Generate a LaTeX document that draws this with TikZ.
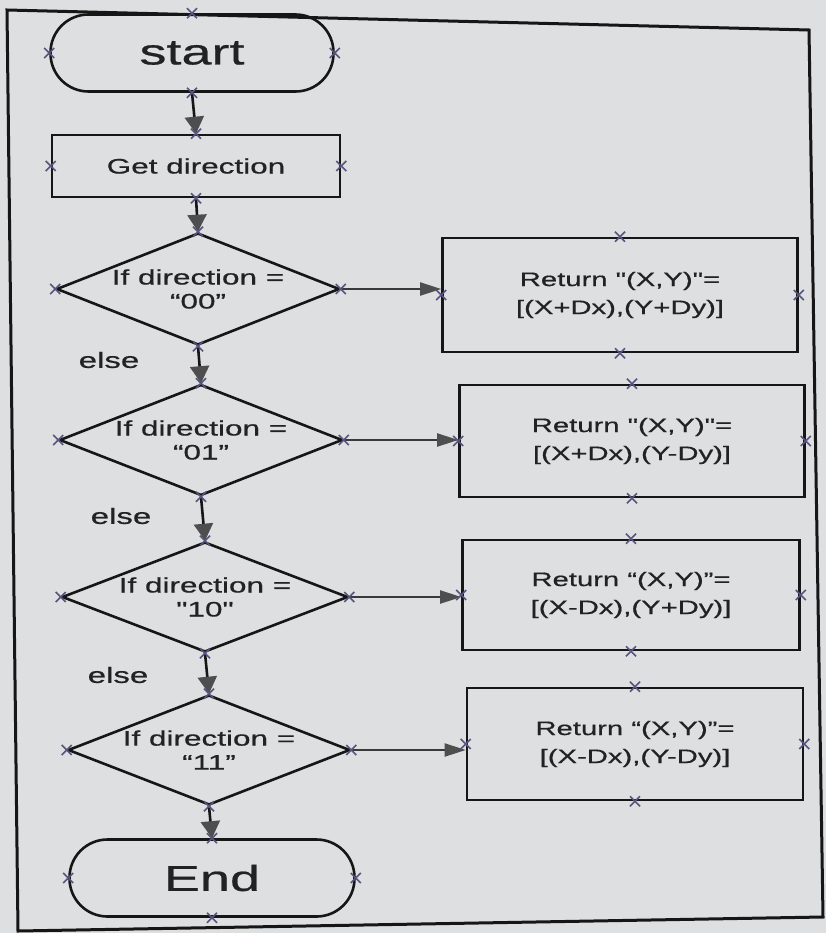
\documentclass[tikz,border=0pt]{standalone}
\usepackage{fontspec}
\setmainfont{Liberation Sans}
\newfontfamily\wf[FakeStretch=1.5,FakeBold=0.6]{Liberation Sans}
\usetikzlibrary{shapes.geometric,arrows.meta,calc}
\definecolor{paper}{HTML}{DEDFE1}
\definecolor{ink}{HTML}{161616}
\definecolor{txt}{HTML}{222222}
\definecolor{headgrey}{HTML}{4E4E4E}
\definecolor{xmcol}{HTML}{55557E}
\tikzset{
  base/.style={draw=ink, line width=2.6pt, text=txt, inner sep=0pt, align=center},
  term/.style={base, rectangle, rounded corners=38pt},
  proc/.style={base, rectangle},
  dec/.style={base, diamond, aspect=2.5},
  vflow/.style={draw=ink, line width=2.6pt, -{Triangle[width=19pt,length=17pt,color=headgrey]}},
  hflow/.style={draw=ink!85, line width=2pt, -{Triangle[width=13pt,length=21pt,color=headgrey]}},
  lbl/.style={font=\wf\fontsize{22}{24}\selectfont, text=txt},
  dtext/.style={font=\wf\fontsize{21}{24}\selectfont},
  rtext/.style={font=\wf\fontsize{19.5}{28}\selectfont},
  xm/.pic={\draw[xmcol, line width=1.6pt] (-5,-5)--(5,5) (-5,5)--(5,-5);},
}
\begin{document}
\begin{tikzpicture}[x=1pt,y=-1pt]
\useasboundingbox (0,0) rectangle (826,933);
\fill[paper] (0,0) rectangle (826,933);
\draw[ink, line width=3pt, line join=miter] (7,10) -- (809,30) -- (823,917) -- (18,931) -- cycle;

% terminals and process
\node[term, minimum width=283pt, minimum height=77pt, font=\wf\fontsize{36}{38}\selectfont] (start) at (192,53) {start};
\node[proc, minimum width=288pt, minimum height=62pt, font=\wf\fontsize{21}{24}\selectfont] (get) at (196,166) {Get direction};

% decisions
\node[dec, dtext, minimum width=283pt, minimum height=112pt] (d1) at (198,289) {If direction =\\“00”};
\node[dec, dtext, minimum width=283pt, minimum height=111pt] (d2) at (201,440) {If direction =\\“01”};
\node[dec, dtext, minimum width=286pt, minimum height=110pt] (d3) at (205,597) {If direction =\\"10"};
\node[dec, dtext, minimum width=282pt, minimum height=110pt] (d4) at (209,750) {If direction =\\“11”};

\node[term, minimum width=285pt, minimum height=77pt, font=\wf\fontsize{36}{38}\selectfont] (end) at (212,878) {End};

% result boxes
\node[proc, rtext, minimum width=355pt, minimum height=114pt] (b1) at (620,295) {Return "(X,Y)"=\\{[}(X+Dx),(Y+Dy)]};
\node[proc, rtext, minimum width=345pt, minimum height=112pt] (b2) at (632,441) {Return "(X,Y)"=\\{[}(X+Dx),(Y-Dy)]};
\node[proc, rtext, minimum width=337pt, minimum height=110pt] (b3) at (631,595) {Return “(X,Y)”=\\{[}(X-Dx),(Y+Dy)]};
\node[proc, rtext, minimum width=336pt, minimum height=112pt] (b4) at (635,744) {Return “(X,Y)”=\\{[}(X-Dx),(Y-Dy)]};

% else labels
\node[lbl] (e1) at (109,360) {else};
\node[lbl] (e2) at (121,516) {else};
\node[lbl] (e3) at (118,675) {else};

% vertical flow
\draw[vflow] (start.south) -- (get.north);
\draw[vflow] (get.south) -- (d1.north);
\draw[vflow] (d1.south) -- (d2.north);
\draw[vflow] (d2.south) -- (d3.north);
\draw[vflow] (d3.south) -- (d4.north);
\draw[vflow] (d4.south) -- (end.north);

% horizontal flow
\draw[hflow] (d1.east) -- (d1.east -| b1.west);
\draw[hflow] (d2.east) -- (d2.east -| b2.west);
\draw[hflow] (d3.east) -- (d3.east -| b3.west);
\draw[hflow] (d4.east) -- (d4.east -| b4.west);

% connection markers
\foreach \n in {start,get,d1,d2,d3,d4,end,b1,b2,b3,b4}
  \foreach \a in {north,south,east,west}
    \path (\n.\a) pic {xm};
\end{tikzpicture}
\end{document}
